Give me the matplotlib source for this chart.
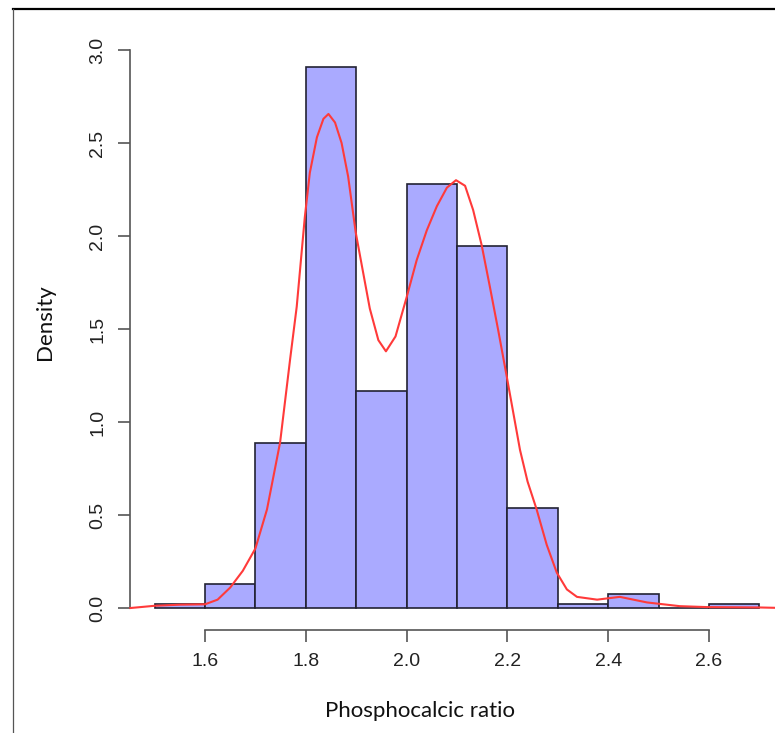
import matplotlib
matplotlib.use("Agg")
import matplotlib.pyplot as plt
from matplotlib.lines import Line2D

# ---- data ----
bin_left = [1.5, 1.6, 1.7, 1.8, 1.9, 2.0, 2.1, 2.2, 2.3, 2.4, 2.5, 2.6]
density = [0.019, 0.130, 0.889, 2.907, 1.167, 2.278, 1.944, 0.537, 0.019, 0.074, 0.0, 0.019]
bin_width = 0.1

kde_x = [1.452, 1.50, 1.55, 1.60, 1.625, 1.65, 1.675, 1.70, 1.723, 1.749, 1.769,
         1.782, 1.798, 1.808, 1.822, 1.835, 1.845, 1.858, 1.871, 1.884, 1.899,
         1.914, 1.927, 1.944, 1.959, 1.978, 2.000, 2.020, 2.040, 2.060, 2.080,
         2.098, 2.116, 2.132, 2.149, 2.165, 2.182, 2.199, 2.225, 2.240, 2.258,
         2.278, 2.298, 2.318, 2.338, 2.378, 2.423, 2.477, 2.542, 2.596, 2.65,
         2.70, 2.75]
kde_y = [0.000, 0.012, 0.018, 0.020, 0.045, 0.11, 0.20, 0.32, 0.53, 0.89, 1.34,
         1.62, 2.10, 2.34, 2.53, 2.63, 2.656, 2.61, 2.50, 2.32, 2.02,
         1.80, 1.61, 1.44, 1.38, 1.46, 1.67, 1.87, 2.03, 2.16, 2.26,
         2.30, 2.27, 2.14, 1.95, 1.73, 1.49, 1.24, 0.85, 0.68, 0.53,
         0.34, 0.19, 0.10, 0.06, 0.045, 0.06, 0.03, 0.01, 0.005, 0.004,
         0.003, 0.0]

x_ticks = [1.6, 1.8, 2.0, 2.2, 2.4, 2.6]
x_ticklabels = ["1.6", "1.8", "2.0", "2.2", "2.4", "2.6"]
y_ticks = [0.0, 0.5, 1.0, 1.5, 2.0, 2.5, 3.0]
y_ticklabels = ["0.0", "0.5", "1.0", "1.5", "2.0", "2.5", "3.0"]

# ---- figure ----
W, H = 775, 733
fig = plt.figure(figsize=(W / 100, H / 100), dpi=100)
fig.patch.set_facecolor("white")

ax = fig.add_axes([130.4 / W, (H - 629.6) / H, 653.2 / W, 583.9 / H])
ax.set_xlim(1.452, 2.748)
ax.set_ylim(-0.116, 3.023)
ax.patch.set_alpha(0)

ax.bar(bin_left, density, width=bin_width, align="edge",
       color="#aaaaff", edgecolor="#222233", linewidth=1.2, zorder=2)
ax.plot(kde_x, kde_y, color="#ff3a3a", linewidth=1.5, zorder=3, clip_on=False,
        solid_joinstyle="round")

for s in ["top", "right"]:
    ax.spines[s].set_visible(False)
ax.spines["left"].set_bounds(0, 3)
ax.spines["bottom"].set_bounds(1.6, 2.6)
for s in ["left", "bottom"]:
    ax.spines[s].set_color("#555555")
    ax.spines[s].set_linewidth(1.2)

ax.set_xticks(x_ticks)
ax.set_xticklabels(x_ticklabels, fontfamily="Liberation Sans", fontsize=14, color="#222222")
ax.set_yticks(y_ticks)
ax.set_yticklabels(y_ticklabels, fontfamily="Liberation Sans", fontsize=14, color="#222222",
                   rotation=90, va="center")
ax.tick_params(axis="both", length=8.5, width=1.2, color="#555555")
ax.tick_params(axis="x", pad=8)
ax.tick_params(axis="y", pad=9)

fig.text(420 / W, 1 - 711 / H, "Phosphocalcic ratio", ha="center", va="center",
         fontfamily="Lato", fontsize=16, color="#111111")
fig.text(45 / W, 1 - 322 / H, "Density", ha="center", va="center", rotation=90,
         fontfamily="Lato", fontsize=16, color="#111111")

# outer frame lines (top and left)
fig.add_artist(Line2D([13 / W, 1.0], [1 - 9 / H, 1 - 9 / H], transform=fig.transFigure,
                      color="black", linewidth=1.6))
fig.add_artist(Line2D([13 / W, 13 / W], [0, 1 - 9 / H], transform=fig.transFigure,
                      color="#555555", linewidth=0.9))

fig.savefig("out.png", dpi=100)
